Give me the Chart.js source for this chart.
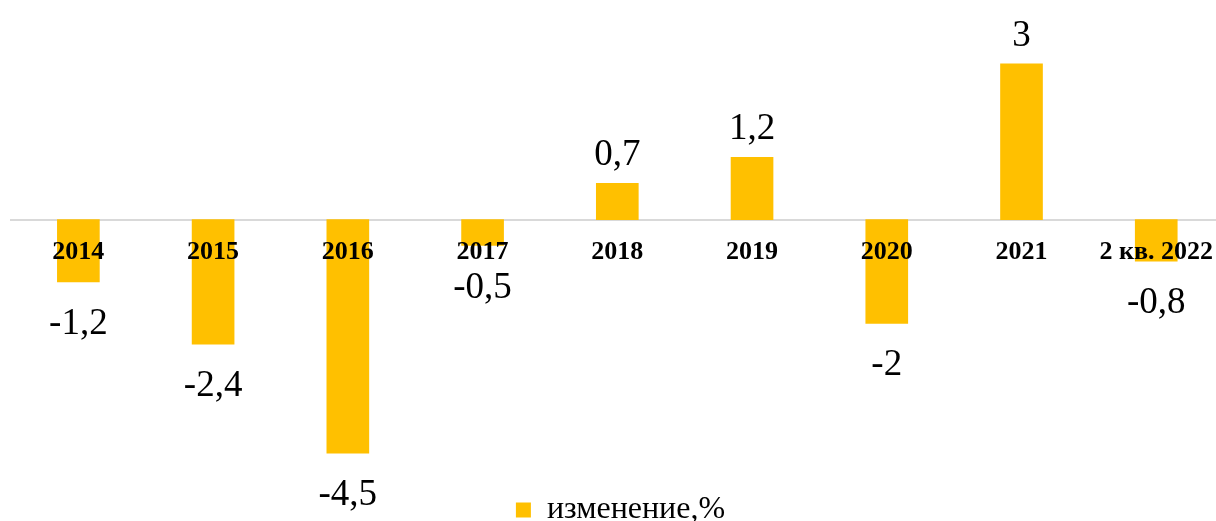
<!DOCTYPE html>
<html>
<head>
<meta charset="utf-8">
<script src="https://cdn.jsdelivr.net/npm/chart.js@4"></script>
<style>
  html, body { margin: 0; padding: 0; background: #fff; overflow: hidden; }
  #wrap { width: 1230px; height: 536px; }
</style>
</head>
<body>
<div id="wrap"><canvas id="myChart"></canvas></div>
<script>
const categories = ['2014', '2015', '2016', '2017', '2018', '2019', '2020', '2021', '2 кв. 2022'];
const changeValues = [-1.2, -2.4, -4.5, -0.5, 0.7, 1.2, -2, 3, -0.8];
const seriesLabel = 'изменение,%';

const barColor = '#FFC000';
const serif = "'Liberation Serif', 'Times New Roman', serif";

// values above / below the bars, with a comma as decimal mark
const valueLabels = {
    id: 'valueLabels',
    afterDatasetsDraw(chart) {
        const ctx = chart.ctx;
        const meta = chart.getDatasetMeta(0);
        ctx.save();
        ctx.font = '37px ' + serif;
        ctx.fillStyle = '#000';
        ctx.textAlign = 'center';
        ctx.textBaseline = 'alphabetic';
        meta.data.forEach((bar, i) => {
            const v = chart.data.datasets[0].data[i];
            const text = String(v).replace('.', ',');
            const y = v >= 0 ? bar.y - 18 : bar.y + 52;
            ctx.fillText(text, bar.x, y);
        });
        ctx.restore();
    }
};

const ctx = document.getElementById('myChart').getContext('2d');
const myChart = new Chart(ctx, {
    type: 'bar',
    data: {
        labels: categories,
        datasets: [{
            label: seriesLabel,
            data: changeValues,
            backgroundColor: barColor,
            borderWidth: 0,
            barThickness: 42
        }]
    },
    options: {
        responsive: true,
        maintainAspectRatio: false,
        animation: false,
        layout: { padding: { top: 12, left: 11, right: 0, bottom: 0 } },
        scales: {
            x: {
                position: { y: 0 },
                grid: { display: false, drawTicks: false },
                border: { display: true, color: '#d9d9d9', width: 2 },
                ticks: {
                    z: 1,
                    padding: 17,
                    color: '#000',
                    maxRotation: 0,
                    autoSkip: false,
                    font: { family: serif, size: 26, weight: 'bold' }
                }
            },
            y: {
                display: false,
                min: -5.25,
                max: 4
            }
        },
        plugins: {
            legend: {
                position: 'bottom',
                labels: {
                    color: '#000',
                    boxWidth: 15,
                    boxHeight: 15,
                    padding: 2,
                    font: { family: serif, size: 32 }
                }
            },
            tooltip: { enabled: false }
        }
    },
    plugins: [valueLabels]
});
</script>
</body>
</html>
